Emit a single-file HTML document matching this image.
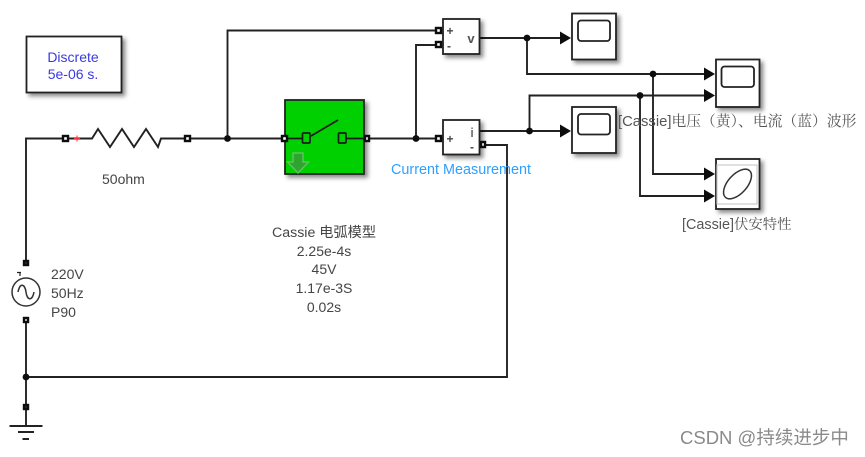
<!DOCTYPE html>
<html><head><meta charset="utf-8"><style>
html,body{margin:0;padding:0;background:#fff}
svg{display:block}
text{font-family:"Liberation Sans","Noto Sans CJK SC",sans-serif;font-size:14px;fill:#444}
.c{font-family:"Liberation Sans","Noto Serif CJK SC",sans-serif;fill:#555}
</style></head><body>
<svg width="865" height="457" viewBox="0 0 865 457" xmlns="http://www.w3.org/2000/svg">
<defs>
<filter id="s" x="-30%" y="-30%" width="170%" height="170%"><feDropShadow dx="3" dy="3" stdDeviation="2.2" flood-color="#000" flood-opacity=".45"/></filter>
<filter id="b"><feGaussianBlur stdDeviation=".35"/></filter>
</defs>
<g filter="url(#b)">
<rect x="26.500" y="36.500" width="95" height="56" fill="#fff" stroke="#222" stroke-width="1.800" filter="url(#s)"/>
<text x="73" y="62" text-anchor="middle" style="fill:#3a3ae0">Discrete</text>
<text x="73" y="79" text-anchor="middle" style="fill:#3a3ae0">5e-06 s.</text>

<g fill="none" stroke="#222" stroke-width="1.900">
<path d="M26 263V138.500H92L98 129L110 147L122 129L134 147L146 129L158 147L161 138.500H285"/>
<path d="M26 320V407M26 377H507V145H484"/>
<path d="M227.500 138.500V30.500H438M364 138.500H443M416 138.500V45H438"/>
<path d="M480 38H560M527 38V74H704M653 74V174H704"/>
<path d="M480 131H560M529.500 131V95.500H704M640 95.500V196H704"/>
<path d="M26 407V426"/>
<path d="M9.500 426H42.500M18 432H34M22.500 439H29"/>
</g>

<g fill="#111">
<circle cx="227.500" cy="138.500" r="3.400"/><circle cx="416" cy="138.500" r="3.400"/>
<circle cx="527" cy="38" r="3.400"/><circle cx="529.500" cy="131" r="3.400"/>
<circle cx="653" cy="74" r="3.400"/><circle cx="640" cy="95.500" r="3.400"/>
<circle cx="26" cy="377" r="3.400"/>
<path d="M560 31.500L571 38L560 44.500Z"/><path d="M560 124.500L571 131L560 137.500Z"/>
<path d="M704 67.500L715 74L704 80.500Z"/><path d="M704 89L715 95.500L704 102Z"/>
<path d="M704 167.500L715 174L704 180.500Z"/><path d="M704 189.500L715 196L704 202.500Z"/>
</g>

<!-- Switch -->
<rect x="285" y="100" width="79" height="74" fill="#00cf00" stroke="#222" stroke-width="1.800" filter="url(#s)"/>
<g fill="none" stroke="#1a1a1a" stroke-width="1.700">
<path d="M285 138.500H302M311 136L338 120M346 138.500H364"/>
<rect x="302.500" y="133" width="7.500" height="10" rx="1"/>
<rect x="338.500" y="133" width="7.500" height="10" rx="1"/>
</g>
<path d="M293 153H303V162H308.500L298 173L287.500 162H293Z" fill="#2ea52e" stroke="#5cc35c" stroke-width="1.500"/>

<!-- Measurements -->
<rect x="443" y="19" width="36.500" height="35" fill="#fff" stroke="#222" stroke-width="1.800" filter="url(#s)"/>
<rect x="443" y="120" width="36.500" height="34.500" fill="#fff" stroke="#222" stroke-width="1.800" filter="url(#s)"/>
<g style="font-weight:bold">
<text x="450" y="35" text-anchor="middle" style="font-size:12px">+</text>
<text x="449" y="50" text-anchor="middle" style="font-size:12px">-</text>
<text x="471" y="43" text-anchor="middle" style="font-size:13px;fill:#555">v</text>
<text x="450" y="143" text-anchor="middle" style="font-size:12px">+</text>
<text x="472" y="137" text-anchor="middle" style="font-size:13px;fill:#777">i</text>
<text x="472" y="151" text-anchor="middle" style="font-size:12px">-</text>
</g>
<text x="461" y="174" text-anchor="middle" style="fill:#2f9fff;font-size:14.400px">Current Measurement</text>

<!-- Scopes -->
<g fill="#fff" stroke="#222" stroke-width="1.800">
<rect x="572" y="13.500" width="44" height="46" filter="url(#s)"/>
<rect x="572" y="107" width="44" height="46" filter="url(#s)"/>
<rect x="716" y="59.500" width="43.500" height="47.500" filter="url(#s)"/>
<rect x="716" y="159" width="43.500" height="50" filter="url(#s)"/>
<rect x="578" y="20.500" width="32" height="20.500" rx="3"/>
<rect x="578" y="114" width="32" height="20.500" rx="3"/>
<rect x="721.500" y="66.500" width="32.500" height="20.500" rx="3"/>
</g>
<rect x="717" y="165" width="40" height="39" fill="none" stroke="#ccc" stroke-width="1.200"/>
<ellipse cx="737.500" cy="184" rx="18" ry="9.500" transform="rotate(-48 737.500 184)" fill="none" stroke="#333" stroke-width="1.500"/>

<text x="618" y="126" class="c" style="font-size:14.800px">[Cassie]电压（黄）、电流（蓝）波形</text>
<text x="682" y="229" class="c" style="font-size:14.400px">[Cassie]伏安特性</text>
<text x="324" y="237" text-anchor="middle" style="font-size:14.200px">Cassie 电弧模型</text>
<text x="324" y="256" text-anchor="middle">2.25e-4s</text>
<text x="324" y="274" text-anchor="middle">45V</text>
<text x="324" y="293" text-anchor="middle">1.17e-3S</text>
<text x="324" y="312" text-anchor="middle">0.02s</text>
<text x="102" y="184">50ohm</text>
<text x="51" y="279">220V</text>
<text x="51" y="298">50Hz</text>
<text x="51" y="317">P90</text>

<!-- Source -->
<circle cx="26" cy="292" r="14" fill="#fff" stroke="#333" stroke-width="1.500"/>
<path d="M18 292C20 282 25 284 26 292C27 300 32 302 34 292" fill="none" stroke="#333" stroke-width="1.500"/>
<path d="M17 272.500H21M20 272V276" stroke="#222" stroke-width="1.200" fill="none"/>

<!-- Ports -->
<g fill="#fff" stroke="#111" stroke-width="2.400">
<rect x="63" y="136" width="5" height="5"/><rect x="185" y="136" width="5" height="5"/>
<rect x="282" y="136" width="5" height="5"/><rect x="365" y="136" width="4" height="5"/>
<rect x="436" y="28" width="5" height="5"/><rect x="436" y="42" width="5" height="5"/>
<rect x="436" y="136" width="5" height="5"/><rect x="481" y="142" width="4" height="5"/>
<rect x="24" y="261" width="4" height="4" fill="#333"/><rect x="24" y="318" width="4" height="4"/>
<rect x="24" y="405" width="4" height="4" fill="#333"/>
</g>
<path d="M74 138.500H80M77 135.500V141.500" stroke="#f33" stroke-width="1"/>
</g>
<text x="680" y="444" style="font-family:'Liberation Sans','Noto Sans CJK SC',sans-serif;font-size:18.500px;fill:#8a8a8a">CSDN @持续进步中</text>
</svg>
</body></html>
